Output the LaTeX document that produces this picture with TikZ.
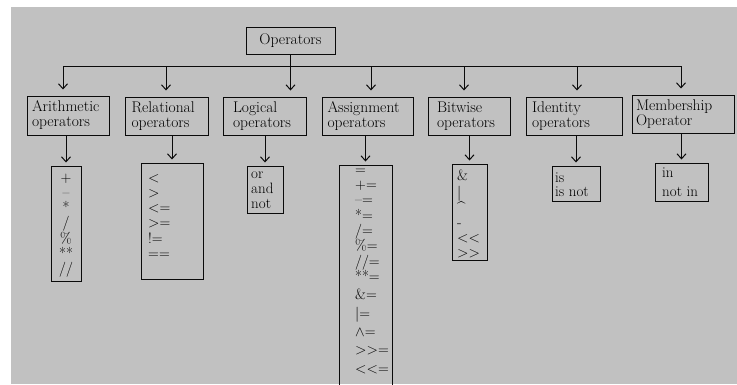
\documentclass[tikz,border=0pt]{standalone}
\usetikzlibrary{arrows.meta}
\definecolor{bggray}{RGB}{193,193,193}
\definecolor{ink}{RGB}{10,10,10}
\newcommand{\labfont}{\fontsize{15.5}{15}\selectfont}
\newcommand{\leaffont}{\fontsize{15}{15.2}\selectfont}
\tikzset{
  lab/.style={draw=ink, line width=1pt, align=left, inner xsep=0pt, inner ysep=0pt, font=\labfont, text=black},
  leafbox/.style={draw=ink, line width=1pt, inner sep=0pt},
  leaftext/.style={inner sep=0pt, font=\leaffont, text=black},
  arr/.style={draw=ink, line width=1pt, -{Straight Barb[length=5pt,width=9pt,line width=1pt]}},
  conn/.style={draw=ink, line width=1pt}
}
\begin{document}
\begin{tikzpicture}[x=1pt,y=-1pt]
\useasboundingbox (0,0) rectangle (737,384);
\fill[white] (0,0) rectangle (737,384);
\fill[bggray] (11,7) rectangle (737,384);

% root
\node[lab, align=center, minimum width=89pt, minimum height=27pt] (op) at (290.5,40.5) {Operators};

% level 2
\node[lab, minimum width=82pt, minimum height=39pt, text width=72pt] (ar) at (68,115.5) {Arithmetic\\operators};
\node[lab, minimum width=83pt, minimum height=38pt, text width=70pt] (rel) at (166.5,116) {Relational\\operators};
\node[lab, minimum width=83pt, minimum height=38pt, text width=63pt] (log) at (264.5,116) {Logical\\operators};
\node[lab, minimum width=91pt, minimum height=38pt, text width=80pt] (asg) at (367.5,116) {Assignment\\operators};
\node[lab, minimum width=82pt, minimum height=38pt, text width=64pt] (bit) at (469,116) {Bitwise\\operators};
\node[lab, minimum width=96pt, minimum height=38pt, text width=84pt] (idn) at (574,116) {Identity\\operators};
\node[lab, minimum width=102pt, minimum height=38pt, text width=94pt] (mem) at (683,114) {Membership\\Operator};

% leaf boxes
\node[leafbox, minimum width=30pt, minimum height=115pt] (arL) at (66,223.5) {};
\node[leafbox, minimum width=62pt, minimum height=116pt] (relL) at (172,221) {};
\node[leafbox, minimum width=36pt, minimum height=47pt] (logL) at (265,189.5) {};
\node[leafbox, minimum width=53pt, minimum height=240pt] (asgL) at (365.5,285) {};
\node[leafbox, minimum width=35pt, minimum height=96pt] (bitL) at (469.5,212) {};
\node[leafbox, minimum width=48pt, minimum height=35pt] (idnL) at (576,183.5) {};
\node[leafbox, minimum width=53pt, minimum height=38pt] (memL) at (681.5,182) {};

% leaf texts
\node[leaftext, align=center, anchor=north] (arT) at (66,171.4) {\strut+\\\textendash\\*\\/\\\%\\**\\//};
\node[leaftext, align=left, anchor=north west] (relT) at (148,171.4) {\strut<\\>\\<=\\>=\\!=\\==};
\node[leaftext, align=left, anchor=north west] (logT) at (251,167.4) {\strut or\\and\\not};
\node[leaftext, align=left, anchor=north west, font=\fontsize{15}{15.3}\selectfont] (asgT) at (355,163.3)
  {\strut=\\+=\\\textendash=\\*=\\/=\\\%=\\//=\\**=\\[3.1pt]\&=\\[3.1pt]|=\\[3.1pt]$\wedge$=\\[3.1pt]>{}>=\\[3.1pt]<{}<=};
\node[leaftext, align=left, anchor=north west] (bitT) at (457,169.4) {\strut\&\\|\\\textasciicircum\\-\\<{}<\\>{}>};
\node[leaftext, align=left, anchor=north west] (idnT) at (555,171.4) {\strut is\\[-1pt]is not};
\node[leaftext, align=left, anchor=north west] (memT) at (662,166.4) {\strut in\\[4pt]not in};

% top connectors
\coordinate (b1) at (63,66);
\coordinate (b2) at (166,66);
\coordinate (b4) at (371,66);
\coordinate (b5) at (464,66);
\coordinate (b6) at (577,66);
\coordinate (b7) at (681,66);
\draw[conn] (b1) -- (b7);
\draw[arr, shorten >=6pt] (op.south) -- (op.south |- log.north);
\draw[arr, shorten >=6pt] (b1) -- (b1 |- ar.north);
\draw[arr, shorten >=6pt] (b2) -- (b2 |- rel.north);
\draw[arr, shorten >=6pt] (b4) -- (b4 |- asg.north);
\draw[arr, shorten >=6pt] (b5) -- (b5 |- bit.north);
\draw[arr, shorten >=6pt] (b6) -- (b6 |- idn.north);
\draw[arr, shorten >=6pt] (b7) -- (b7 |- mem.north);

% leaf connectors
\draw[arr, shorten >=3pt] (arL.north |- ar.south) -- (arL.north);
\draw[arr, shorten >=3pt] (relL.north |- rel.south) -- (relL.north);
\draw[arr, shorten >=3pt] (logL.north |- log.south) -- (logL.north);
\draw[arr, shorten >=3pt] (asgL.north |- asg.south) -- (asgL.north);
\draw[arr, shorten >=3pt] (bitL.north |- bit.south) -- (bitL.north);
\draw[arr, shorten >=3pt] (idnL.north |- idn.south) -- (idnL.north);
\draw[arr, shorten >=3pt] (memL.north |- mem.south) -- (memL.north);
\end{tikzpicture}
\end{document}
